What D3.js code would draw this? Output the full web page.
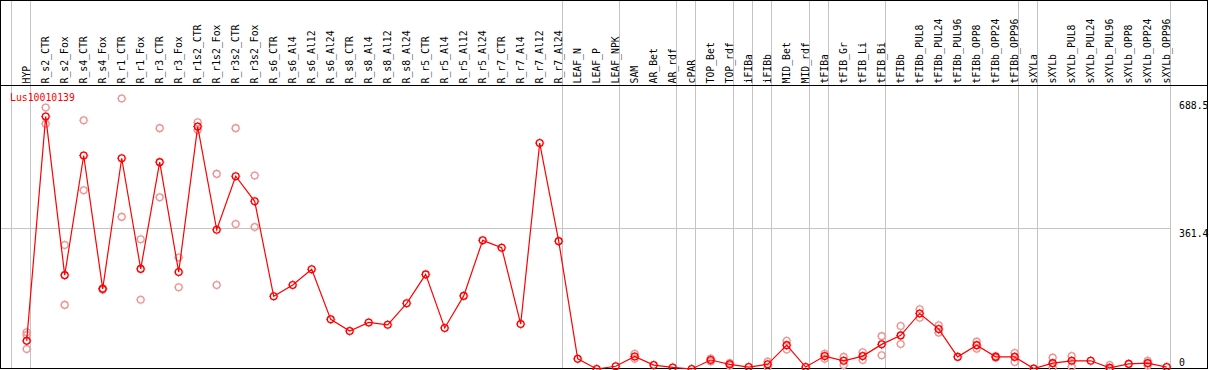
<!DOCTYPE html>
<html>
<head>
<meta charset="utf-8">
<script src="https://cdn.jsdelivr.net/npm/d3@7"></script>
<style>
  html, body { margin: 0; padding: 0; background: #fff; }
  svg { display: block; }
  text { font-family: "DejaVu Sans Mono", monospace; font-size: 9.8px; }
</style>
</head>
<body>
<script>
const title = "Lus10010139";

const categories = [
    "HYP", "R_s2_CTR", "R_s2_Fox", "R_s4_CTR", "R_s4_Fox", "R_r1_CTR", "R_r1_Fox",
    "R_r3_CTR", "R_r3_Fox", "R_r1s2_CTR", "R_r1s2_Fox", "R_r3s2_CTR", "R_r3s2_Fox",
    "R_s6_CTR", "R_s6_Al4", "R_s6_Al12", "R_s6_Al24", "R_s8_CTR", "R_s8_Al4", "R_s8_Al12",
    "R_s8_Al24", "R_r5_CTR", "R_r5_Al4", "R_r5_Al12", "R_r5_Al24", "R_r7_CTR", "R_r7_Al4",
    "R_r7_Al12", "R_r7_Al24", "LEAF_N", "LEAF_P", "LEAF_NPK", "SAM", "AR_Bet", "AR_rdf",
    "cPAR", "TOP_Bet", "TOP_rdf", "iFIBa", "iFIBb", "MID_Bet", "MID_rdf", "tFIBa",
    "tFIB_Gr", "tFIB_Li", "tFIB_Bi", "tFIBb", "tFIBb_PUL8", "tFIBb_PUL24", "tFIBb_PUL96",
    "tFIBb_OPP8", "tFIBb_OPP24", "tFIBb_OPP96", "sXYLa", "sXYLb", "sXYLb_PUL8",
    "sXYLb_PUL24", "sXYLb_PUL96", "sXYLb_OPP8", "sXYLb_OPP24", "sXYLb_OPP96"
];

// mean expression per sample
const meanValues = [
    72, 646, 240, 546, 205, 539, 256, 529, 248, 620, 356, 493, 429,
    186, 215, 255, 127, 97, 119, 113, 168, 242, 105, 187, 329, 310, 115, 578, 327,
    26, 0, 7, 32, 10, 4, 0, 23, 12, 5, 12, 61, 5, 33, 21, 33, 63,
    86, 142, 102, 31, 61, 31, 31, 1, 15, 21, 21, 3, 13, 15, 5
];

// individual replicates (faint circles)
const replicates = [
    [94, 87, 51], [669, 627], [317, 164], [636, 457], [206, 203], [692, 389], [332, 177],
    [616, 439], [285, 209], [631, 611], [499, 215], [616, 371], [495, 363],
    [], [], [], [], [], [], [], [], [], [], [], [], [], [], [], [],
    [], [], [], [39, 26], [], [], [], [27, 19], [15, 9], [], [19, 5], [72, 50], [],
    [39, 26], [31, 10], [43, 23], [84, 35],
    [110, 64], [153, 131], [112, 93], [], [70, 52], [33, 29], [41, 18],
    [], [29, 4], [33, 6], [], [10, 0], [], [21, 9], []
];

// last sample of each group (separator lines)
const groupEnds = ["HYP", "R_r7_Al24", "LEAF_NPK", "AR_rdf", "cPAR", "TOP_rdf", "iFIBa",
    "iFIBb", "MID_rdf", "tFIBa", "tFIB_Bi", "tFIBb_OPP96", "sXYLa", "sXYLb_OPP96"];

const yTicks = [688.5, 361.4, 0];
const yGrid = [361.4];
const yMax = 722.8;

const width = 1209, height = 370;
const headerY = 85.5, bottomY = 368.5;
const redColor = "#ff0000", repColor = "#ec9696", gridColor = "#c4c4c4";

const svg = d3.select("body").append("svg")
    .attr("width", width)
    .attr("height", height);

svg.append("rect").attr("width", width).attr("height", height).attr("fill", "#fff");

const x = d3.scalePoint()
    .domain(categories)
    .range([26.7, 1166.7]);

const y = d3.scaleLinear()
    .domain([0, yMax])
    .range([369, 86.4]);

const sepOffset = 3.6;
const sepXs = [x(categories[0]) - x.step() + sepOffset]
    .concat(groupEnds.map(c => x(c) + sepOffset));

// vertical separators
svg.append("g").selectAll("line")
    .data(sepXs)
    .join("line")
    .attr("x1", d => Math.round(d) + 0.5)
    .attr("x2", d => Math.round(d) + 0.5)
    .attr("y1", 1)
    .attr("y2", bottomY)
    .attr("stroke", gridColor)
    .attr("stroke-width", 1);

// horizontal grid
const lastSep = sepXs[sepXs.length - 1];
svg.append("g").selectAll("line")
    .data(yGrid)
    .join("line")
    .attr("x1", 1)
    .attr("x2", Math.round(lastSep) + 0.5)
    .attr("y1", d => Math.round(y(d)) + 0.5)
    .attr("y2", d => Math.round(y(d)) + 0.5)
    .attr("stroke", gridColor);

// frame
svg.append("rect")
    .attr("x", 0.5).attr("y", 0.5)
    .attr("width", 1207).attr("height", bottomY - 0.5)
    .attr("fill", "none")
    .attr("stroke", "#000");

svg.append("line")
    .attr("x1", 0).attr("x2", 1208)
    .attr("y1", headerY).attr("y2", headerY)
    .attr("stroke", "#000");

// header labels
svg.append("g").selectAll("text")
    .data(categories)
    .join("text")
    .attr("transform", d => `translate(${x(d) + 3.6},83.5) rotate(-90)`)
    .attr("fill", "#000")
    .text(d => d);

// right axis labels
svg.append("g").selectAll("text")
    .data(yTicks)
    .join("text")
    .attr("x", 1179)
    .attr("y", d => Math.min(y(d) + 9.5, 365.5))
    .attr("fill", "#000")
    .text(d => d);

// title
svg.append("text")
    .attr("x", 10)
    .attr("y", 100.5)
    .attr("fill", redColor)
    .text(title);

// marker: circle with little ticks
const markerPath = "M0,-4.6V-3.8M0,3.8V4.6M-4.6,0H-3.8M3.8,0H4.6";
const drawMarkers = (sel, color) => {
    const g = sel.join("g")
        .attr("transform", d => `translate(${d.x},${d.y})`);
    g.append("circle")
        .attr("r", 3.4)
        .attr("fill", "none")
        .attr("stroke", color)
        .attr("stroke-width", 1.3);
    g.append("path")
        .attr("d", markerPath)
        .attr("stroke", color)
        .attr("stroke-width", 1);
};

// replicates
const repData = [];
replicates.forEach((reps, i) => {
    reps.forEach(v => repData.push({ x: x(categories[i]), y: y(v) }));
});
drawMarkers(svg.append("g").selectAll("g").data(repData), repColor);

// mean line
const meanData = meanValues.map((v, i) => ({ x: x(categories[i]), y: y(v) }));
const line = d3.line().x(d => d.x).y(d => d.y);
svg.append("path")
    .attr("d", line(meanData))
    .attr("fill", "none")
    .attr("stroke", redColor)
    .attr("stroke-width", 1.2);

drawMarkers(svg.append("g").selectAll("g").data(meanData), redColor);
</script>
</body>
</html>
